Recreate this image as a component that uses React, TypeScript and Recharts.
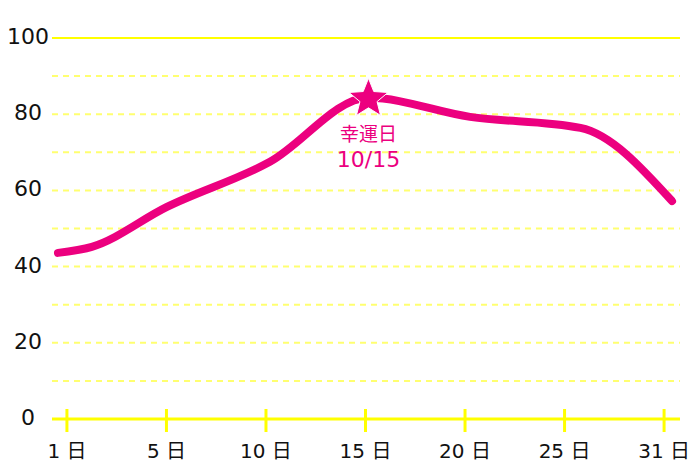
import React from 'react';
import { LineChart, Line, XAxis, YAxis, CartesianGrid, ReferenceLine } from 'recharts';

// tick categories (positions 0..6 on the x axis)
const tickPositions = [0, 1, 2, 3, 4, 5, 6];
const tickLabels = ['1 日', '5 日', '10 日', '15 日', '20 日', '25 日', '31 日'];

// line points: position along the day axis and value
const pointPos = [-0.09, 0.25, 1, 2.04, 3.03, 4.05, 5.16, 6.08];
const pointVal = [43.6, 45.2, 55.6, 67.5, 84.3, 79.3, 76.4, 57.2];

const yTicks = [0, 10, 20, 30, 40, 50, 60, 70, 80, 90, 100];

const luckyIndex = 4;
const luckyTitle = '幸運日';
const luckyDate = '10/15';

const data = pointPos.map((p, i) => ({ p, v: pointVal[i] }));

const FONT = '"DejaVu Sans", "Noto Sans CJK JP", sans-serif';
const CJK = '"Noto Sans CJK JP", sans-serif';
const PINK = '#ec007f';
const YELLOW = '#ffff00';

const XTick = (props: any) => {
  const { x, y, payload } = props;
  const label = tickLabels[payload.value] ?? '';
  return (
    <g>
      <line x1={x} x2={x} y1={y - 10} y2={y + 13} stroke={YELLOW} strokeWidth={3} />
      <text x={x} y={y + 39} textAnchor="middle" fontFamily={FONT} fontSize={20} fill="#111">
        {label}
      </text>
    </g>
  );
};

const YTick = (props: any) => {
  const { y, payload } = props;
  if (payload.value % 20 !== 0) return <g />;
  return (
    <text x={28} y={y + 6} textAnchor="middle" fontFamily={FONT} fontSize={22} fill="#111">
      {payload.value}
    </text>
  );
};

const StarDot = (props: any) => {
  const { cx, cy, index } = props;
  if (index !== luckyIndex) return <g key={`d${index}`} />;
  const R = 20.5;
  const r = 9;
  const pts: string[] = [];
  for (let k = 0; k < 10; k++) {
    const ang = -Math.PI / 2 + (k * Math.PI) / 5;
    const rad = k % 2 === 0 ? R : r;
    pts.push(`${cx + rad * Math.cos(ang)},${cy + 1 + rad * Math.sin(ang)}`);
  }
  return (
    <g key={`d${index}`}>
      <polygon points={pts.join(' ')} fill={PINK} stroke="#fff" strokeWidth={1} />
      <text x={cx} y={cy + 43} textAnchor="middle" fontFamily={CJK} fontSize={19} fill={PINK}>
        {luckyTitle}
      </text>
      <text x={cx} y={cy + 69} textAnchor="middle" fontFamily={FONT} fontSize={22} fill={PINK}>
        {luckyDate}
      </text>
    </g>
  );
};

export default function App() {
  return (
    <div style={{ position: 'absolute', left: 0, top: 0, background: '#fff' }}>
      <LineChart width={700} height={467} data={data} margin={{ top: 38, right: 20, bottom: 0, left: 0 }}>
        <CartesianGrid vertical={false} stroke="#ffff70" strokeWidth={2} strokeDasharray="6 5" />
        <ReferenceLine y={100} stroke={YELLOW} strokeWidth={2} />
        <XAxis
          dataKey="p"
          type="number"
          domain={[-0.15, 6.16]}
          ticks={tickPositions}
          interval={0}
          height={48}
          axisLine={{ stroke: YELLOW, strokeWidth: 3 }}
          tickLine={false}
          tickSize={0}
          tickMargin={0}
          tick={<XTick />}
        />
        <YAxis
          domain={[0, 100]}
          ticks={yTicks}
          interval={0}
          width={52}
          axisLine={false}
          tickLine={false}
          tick={<YTick />}
        />
        <Line
          type="monotone"
          dataKey="v"
          stroke={PINK}
          strokeWidth={8}
          strokeLinecap="round"
          strokeLinejoin="round"
          dot={<StarDot />}
          activeDot={false}
          isAnimationActive={false}
        />
      </LineChart>
    </div>
  );
}
